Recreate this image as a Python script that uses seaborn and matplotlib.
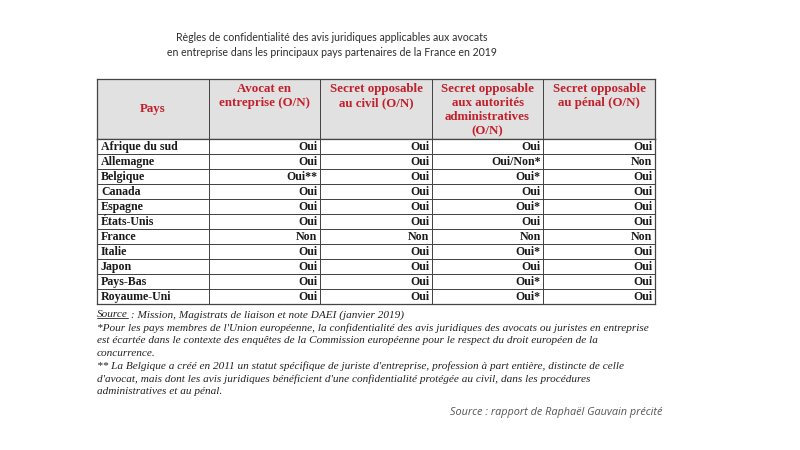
import numpy as np
import pandas as pd
import matplotlib
matplotlib.use('Agg')
from matplotlib import pyplot as plt
from matplotlib.colors import ListedColormap
from matplotlib.lines import Line2D
import seaborn as sns

# Données du tableau
en_tetes = ['Pays', 'Avocat en\nentreprise (O/N)', 'Secret opposable\nau civil (O/N)',
            'Secret opposable\naux autorités\nadministratives\n(O/N)', 'Secret opposable\nau pénal (O/N)']
pays = ['Afrique du sud', 'Allemagne', 'Belgique', 'Canada', 'Espagne', 'États-Unis',
        'France', 'Italie', 'Japon', 'Pays-Bas', 'Royaume-Uni']
avocat_entreprise = ['Oui', 'Oui', 'Oui**', 'Oui', 'Oui', 'Oui', 'Non', 'Oui', 'Oui', 'Oui', 'Oui']
secret_civil = ['Oui', 'Oui', 'Oui', 'Oui', 'Oui', 'Oui', 'Non', 'Oui', 'Oui', 'Oui', 'Oui']
secret_admin = ['Oui', 'Oui/Non*', 'Oui*', 'Oui', 'Oui*', 'Oui', 'Non', 'Oui*', 'Oui', 'Oui*', 'Oui*']
secret_penal = ['Oui', 'Non', 'Oui', 'Oui', 'Oui', 'Oui', 'Non', 'Oui', 'Oui', 'Oui', 'Oui']

titre = ("Règles de confidentialité des avis juridiques applicables aux avocats\n"
         "en entreprise dans les principaux pays partenaires de la France en 2019")
note_source = " : Mission, Magistrats de liaison et note DAEI (janvier 2019)"
notes = ("*Pour les pays membres de l'Union européenne, la confidentialité des avis juridiques des avocats ou juristes en entreprise\n"
         "est écartée dans le contexte des enquêtes de la Commission européenne pour le respect du droit européen de la\n"
         "concurrence.\n"
         "** La Belgique a créé en 2011 un statut spécifique de juriste d'entreprise, profession à part entière, distincte de celle\n"
         "d'avocat, mais dont les avis juridiques bénéficient d'une confidentialité protégée au civil, dans les procédures\n"
         "administratives et au pénal.")
source_bas = "Source : rapport de Raphaël Gauvain précité"

df = pd.DataFrame({
    'Pays': pays,
    'avocat': avocat_entreprise,
    'civil': secret_civil,
    'admin': secret_admin,
    'penal': secret_penal,
})

sns.set_style('white')
W, H = 800, 450
fig = plt.figure(figsize=(8, 4.5), dpi=100)

serif = ['Liberation Serif', 'DejaVu Serif']
rouge = '#c3202b'
ligne = '#444444'

# positions en pixels de la grille
x0, x1 = 97, 655
y_haut, y_entete, y_bas = 79, 139, 304

ax_h = fig.add_axes([x0 / W, 1 - y_entete / H, (x1 - x0) / W, (y_entete - y_haut) / H])
ax_b = fig.add_axes([x0 / W, 1 - y_bas / H, (x1 - x0) / W, (y_bas - y_entete) / H])

sns.heatmap(np.ones((1, len(en_tetes))), cmap=ListedColormap(['#e1e1e1']), cbar=False,
            linewidths=0.6, linecolor=ligne, xticklabels=False, yticklabels=False, ax=ax_h)
sns.heatmap(np.zeros((len(pays), len(en_tetes))), cmap=ListedColormap(['white']), cbar=False,
            linewidths=0.5, linecolor=ligne, xticklabels=False, yticklabels=False, ax=ax_b)

for ax in (ax_h, ax_b):
    for s in ax.spines.values():
        s.set_visible(True)
        s.set_color(ligne)
        s.set_linewidth(0.9)

# en-têtes
for j, t in enumerate(en_tetes):
    if j == 0:
        ax_h.text(j + 0.5, 0.5, t, ha='center', va='center', color=rouge,
                  fontsize=9.3, fontweight='bold', family=serif)
    else:
        ax_h.text(j + 0.5, 0.07, t, ha='center', va='top', color=rouge,
                  fontsize=9.3, fontweight='bold', family=serif, linespacing=1.22)

# corps du tableau
for i, row in df.iterrows():
    ax_b.text(0.035, i + 0.55, row['Pays'], ha='left', va='center', color='#1a1a1a',
              fontsize=8.6, fontweight='bold', family=serif)
    for j, col in enumerate(['avocat', 'civil', 'admin', 'penal'], start=1):
        ax_b.text(j + 0.975, i + 0.55, row[col], ha='right', va='center', color='#1a1a1a',
                  fontsize=8.6, fontweight='bold', family=serif)

# titre
fig.text(332 / W, 1 - 45 / H, titre, ha='center', va='center', color='#2e2e2e',
         fontsize=7.6, family=['Lato', 'DejaVu Sans'], linespacing=1.45)

# notes
fy = 1 - 310 / H
t_src = fig.text(x0 / W, fy, 'Source', ha='left', va='top', color='#222222',
                 fontsize=8.1, style='italic', family=serif)
fig.canvas.draw()
bb = t_src.get_window_extent()
fig.text(bb.x1 / W, fy, note_source, ha='left', va='top', color='#222222',
         fontsize=8.1, style='italic', family=serif)
fig.add_artist(Line2D([bb.x0 / W, bb.x1 / W], [(bb.y0 + 1) / H, (bb.y0 + 1) / H],
                      color='#222222', lw=0.6))
fig.text(x0 / W, 1 - 323.5 / H, notes, ha='left', va='top', color='#222222',
         fontsize=8.1, style='italic', family=serif, linespacing=1.46)

fig.text(662 / W, 1 - 412 / H, source_bas, ha='right', va='center', color='#555555',
         fontsize=7.8, style='italic', family=['Open Sans', 'DejaVu Sans'])

fig.savefig('out.png', dpi=100)
